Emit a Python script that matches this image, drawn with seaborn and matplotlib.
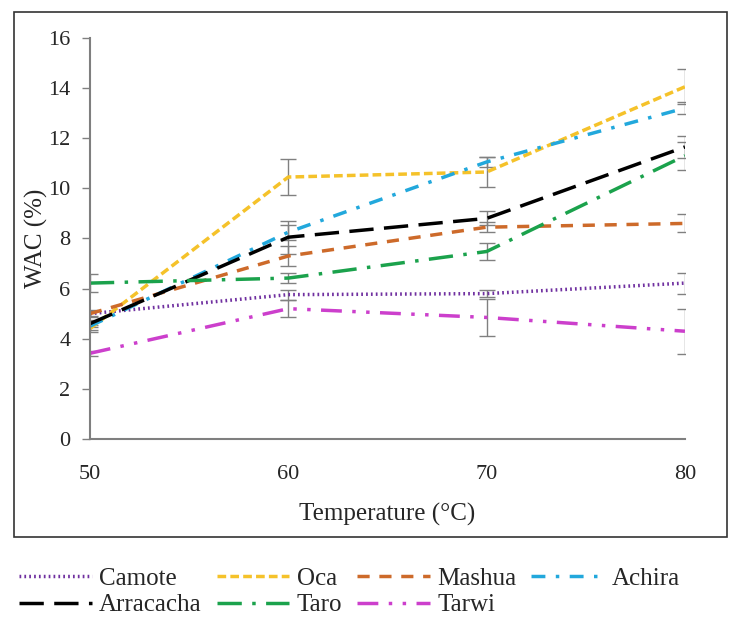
import numpy as np
import pandas as pd
import matplotlib.pyplot as plt
from matplotlib.patches import Rectangle
import seaborn as sns

# WAC values
temps = [50, 60, 70, 80]
camote = [5.0, 5.76, 5.8, 6.22]
oca = [4.4, 10.45, 10.65, 14.05]
mashua = [5.0, 7.3, 8.45, 8.6]
achira = [4.5, 8.25, 11.05, 13.2]
arracacha = [4.6, 8.05, 8.8, 11.65]
taro = [6.22, 6.42, 7.48, 11.3]
tarwi = [3.42, 5.2, 4.85, 4.3]

# standard deviations (error bars)
camote_sd = [0.1, 0.2, 0.15, 0.42]
oca_sd = [0.15, 0.72, 0.6, 0.7]
mashua_sd = [0.15, 0.4, 0.2, 0.36]
achira_sd = [0.15, 0.3, 0.2, 0.25]
arracacha_sd = [0.15, 0.65, 0.28, 0.45]
taro_sd = [0.35, 0.2, 0.35, 0.55]
tarwi_sd = [0.1, 0.35, 0.75, 0.9]

names = ['Camote', 'Oca', 'Mashua', 'Achira', 'Arracacha', 'Taro', 'Tarwi']
values = [camote, oca, mashua, achira, arracacha, taro, tarwi]
sds = [camote_sd, oca_sd, mashua_sd, achira_sd, arracacha_sd, taro_sd, tarwi_sd]

colors = {'Camote': '#7030A0', 'Oca': '#F5C22A', 'Mashua': '#CD6A2A',
          'Achira': '#22A8DC', 'Arracacha': '#000000', 'Taro': '#1BA24C',
          'Tarwi': '#CC3FCC'}
dashes = {'Camote': (0.5, 0.9), 'Oca': (2.5, 1.2), 'Mashua': (3.5, 2.8),
          'Achira': (4, 3, 1, 3), 'Arracacha': (7, 3), 'Taro': (7, 3, 1, 3),
          'Tarwi': (6, 3, 1, 3, 1, 3)}

rows = []
for n, v in zip(names, values):
    for t, y in zip(temps, v):
        rows.append({'Temperature': t, 'WAC': y, 'Sample': n})
df = pd.DataFrame(rows)

sns.set_style('white')
plt.rcParams['font.family'] = ['Liberation Serif', 'DejaVu Serif']

fig = plt.figure(figsize=(7.31, 6.21), dpi=100)
ax = fig.add_axes([0.123, 0.293, 0.814, 0.646])

sns.lineplot(data=df, x='Temperature', y='WAC', hue='Sample', style='Sample',
             palette=colors, dashes=dashes, linewidth=2.5, ax=ax, legend=True)

for n, v, s in zip(names, values, sds):
    ax.errorbar(temps, v, yerr=s, fmt='none', ecolor='#808080',
                elinewidth=1.0, capsize=6, capthick=1.0, zorder=1)

ax.set_xlim(50, 80)
ax.set_ylim(0, 16)
ax.set_xticks(temps)
ax.set_yticks(range(0, 17, 2))
ax.tick_params(axis='x', length=0, pad=19, labelsize=16)
ax.tick_params(axis='y', length=6, width=1, color='#808080', left=True,
               pad=8, labelsize=16)
for side in ['top', 'right']:
    ax.spines[side].set_visible(False)
for side in ['left', 'bottom']:
    ax.spines[side].set_color('#7f7f7f')
    ax.spines[side].set_linewidth(1.5)
ax.set_xlabel('Temperature (°C)', fontsize=18, labelpad=13)
ax.set_ylabel('WAC (%)', fontsize=18, labelpad=0)

# legend in row order (matplotlib fills columns first)
handles, labels = ax.get_legend_handles_labels()
hmap = dict(zip(labels, handles))
order = ['Camote', 'Arracacha', 'Oca', 'Taro', 'Mashua', 'Tarwi', 'Achira']
ax.legend([hmap[k] for k in order], order, loc='upper left',
          bbox_to_anchor=(0.026, 0.086), bbox_transform=fig.transFigure,
          ncol=4, frameon=False, fontsize=18, handlelength=2.9,
          handletextpad=0.3, columnspacing=0.6, labelspacing=0.15,
          borderaxespad=0, borderpad=0)

# outer frame around the chart
fig.patches.append(Rectangle((0.019, 0.135), 0.975, 0.846,
                             transform=fig.transFigure, fill=False,
                             edgecolor='#333333', linewidth=1.2))

fig.savefig('out.png', dpi=100)
